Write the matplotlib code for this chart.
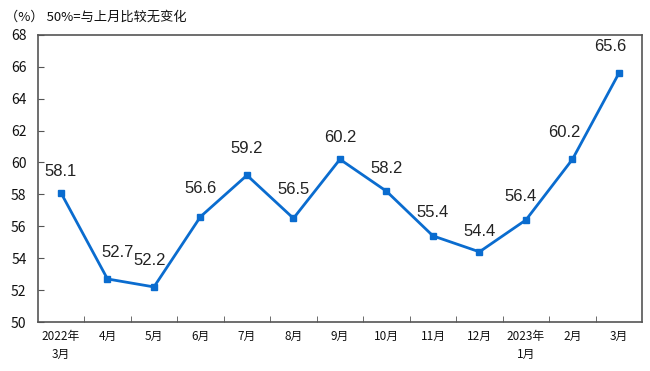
import matplotlib
matplotlib.use("Agg")
import matplotlib.pyplot as plt

plt.rcParams['font.family'] = ['Noto Sans CJK SC', 'DejaVu Sans']

# data
months = ["2022年\n3月", "4月", "5月", "6月", "7月", "8月", "9月",
          "10月", "11月", "12月", "2023年\n1月", "2月", "3月"]
values = [58.1, 52.7, 52.2, 56.6, 59.2, 56.5, 60.2, 58.2, 55.4, 54.4, 56.4, 60.2, 65.6]
# label offsets (points) relative to each marker
label_dx = [0, 7, -3, 0, 0, 0, 0, 0, 0, 0, -4, -6, -6]
label_dy = [15, 19, 19, 20, 19, 21, 16, 16, 17, 15, 17, 19, 19]

color = "#0a6ccf"

fig = plt.figure(figsize=(6.5, 3.71), dpi=100)
ax = fig.add_axes([0.058, 0.132, 0.930, 0.774])

x = list(range(len(values)))
ax.plot(x, values, color=color, lw=2, marker="s", ms=5, zorder=3)

for i, v in enumerate(values):
    ax.annotate(f"{v:.1f}", (i, v), xytext=(label_dx[i], label_dy[i]),
                textcoords="offset points", ha="center", va="center",
                fontsize=12, family="Liberation Sans", color="#222222")

ax.set_xlim(-0.5, len(values) - 0.5)
ax.set_ylim(50, 68)
ax.set_yticks(range(50, 69, 2))
ax.tick_params(axis="y", direction="in", length=4, labelsize=10, pad=8,
               color="#555555", labelcolor="#111111")

ax.set_xticks(x)
ax.set_xticklabels(months, fontsize=8.5, linespacing=1.5, va="top", color="#111111")
ax.tick_params(axis="x", which="major", length=0, pad=6)
ax.set_xticks([i + 0.5 for i in x[:-1]], minor=True)
ax.tick_params(axis="x", which="minor", direction="in", length=4, color="#555555")

for s in ax.spines.values():
    s.set_color("#555555")
    s.set_linewidth(1.2)

fig.text(0.008, 0.955, "（%） 50%=与上月比较无变化", fontsize=9.5,
         ha="left", va="center", color="#111111")

fig.savefig("out.png", dpi=100)
